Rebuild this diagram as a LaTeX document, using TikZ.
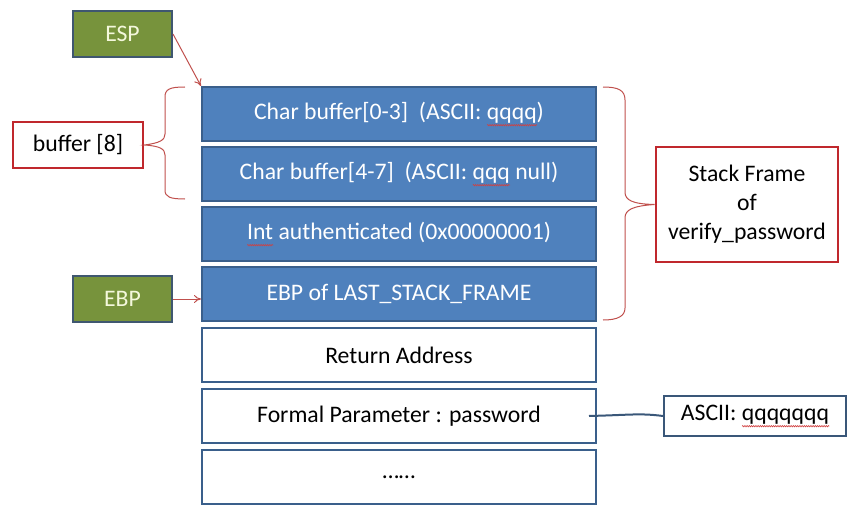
\documentclass[tikz,border=0pt]{standalone}
\usepackage{fontspec}
\setmainfont{Carlito}
\usetikzlibrary{arrows.meta,decorations.pathmorphing}
\definecolor{blufill}{HTML}{4F81BD}
\definecolor{bluedge}{HTML}{3A5F8B}
\definecolor{grnfill}{HTML}{77933C}
\definecolor{grnedge}{HTML}{3F5770}
\definecolor{grntext}{HTML}{F4F8DC}
\definecolor{redbox}{HTML}{C0282D}
\definecolor{redline}{HTML}{C0504D}
\definecolor{linkcol}{HTML}{3A5779}
\definecolor{squig}{HTML}{D04040}
\newcommand\fs{\fontsize{23.7}{29}\selectfont}
\newsavebox\errbox
\newcommand\spellerr[1]{\sbox\errbox{#1}\rlap{\tikz[baseline=0pt]{\draw[squig,line width=0.6pt,
  decorate,decoration={zigzag,segment length=2.2pt,amplitude=0.7pt}]
  (0pt,-6pt) -- (\wd\errbox,-6pt);}}\usebox\errbox}
\tikzset{
  stk/.style={draw=bluedge, line width=2pt, fill=blufill, text=white,
    minimum width=394pt, minimum height=54pt, inner sep=0pt, font=\fs},
  stkw/.style={stk, fill=white, text=black},
  regbox/.style={draw=grnedge, line width=2pt, fill=grnfill, text=grntext,
    minimum width=99pt, minimum height=46pt, inner sep=0pt, font=\fs},
  lblbox/.style={draw=redbox, line width=2.8pt, fill=white, text=black,
    inner sep=0pt, font=\fs, align=center},
  rarr/.style={draw=redline, line width=1pt, -{To[length=7pt,width=8pt]}},
  brc/.style={draw=redline, line width=1pt},
  link/.style={draw=linkcol, line width=2pt}
}
\begin{document}
\begin{tikzpicture}[x=1pt,y=-1pt]
\useasboundingbox (0,0) rectangle (857,519);
% stack rows
\node[stk]  (p1) at (399,114) {Char buffer[0-3]\ \ (ASCII: \spellerr{qqqq})};
\node[stk]  (p2) at (399,174) {Char buffer[4-7]\ \ (ASCII: \spellerr{qqq} null)};
\node[stk]  (p3) at (399,234) {\spellerr{Int} authenticated (0x00000001)};
\node[stk]  (p4) at (399,294) {EBP of LAST\_STACK\_FRAME};
\node[stkw] (p5) at (399,355) {Return Address};
\node[stkw] (p6) at (399,416) {Formal Parameter : password};
\node[stkw] (p7) at (399,477) {……};
% registers
\node[regbox] (esp) at (122.5,34) {ESP};
\node[regbox] (ebp) at (122.5,299) {EBP};
% labels
\node[lblbox, minimum width=130pt, minimum height=46pt] (buf) at (78,145) {buffer [8]};
\node[lblbox, minimum width=182pt, minimum height=115pt] (frame) at (747,204.5)
  {Stack Frame\\of\\verify\_password};
\node[draw=linkcol, line width=2pt, fill=white, text=black, inner sep=0pt, font=\fs,
  minimum width=182pt, minimum height=40pt] (ascii) at (755,416) {ASCII: \spellerr{qqqqqqq}};
% arrows
\draw[rarr] (esp.east) -- (p1.north west);
\draw[rarr] (ebp.east) -- (ebp.east -| p4.west);
% braces
\draw[brc] (185,87) .. controls (170,87) and (165,89) .. (165,97) -- (165,134)
  .. controls (165,140) and (160,143) .. (buf.east)
  .. controls (160,146) and (165,149) .. (165,155) -- (165,190)
  .. controls (165,197) and (170,199) .. (185,199);
\draw[brc] (603,87) .. controls (618,87) and (625,90) .. (625,100) -- (625,192)
  .. controls (625,200) and (632,204) .. (frame.west)
  .. controls (632,206) and (625,210) .. (625,218) -- (625,308)
  .. controls (625,316) and (618,320) .. (603,320);
% link
\draw[link] ([xshift=-8pt]p6.east) .. controls (630,415) and (640,413) .. (ascii.west);
\end{tikzpicture}
\end{document}
